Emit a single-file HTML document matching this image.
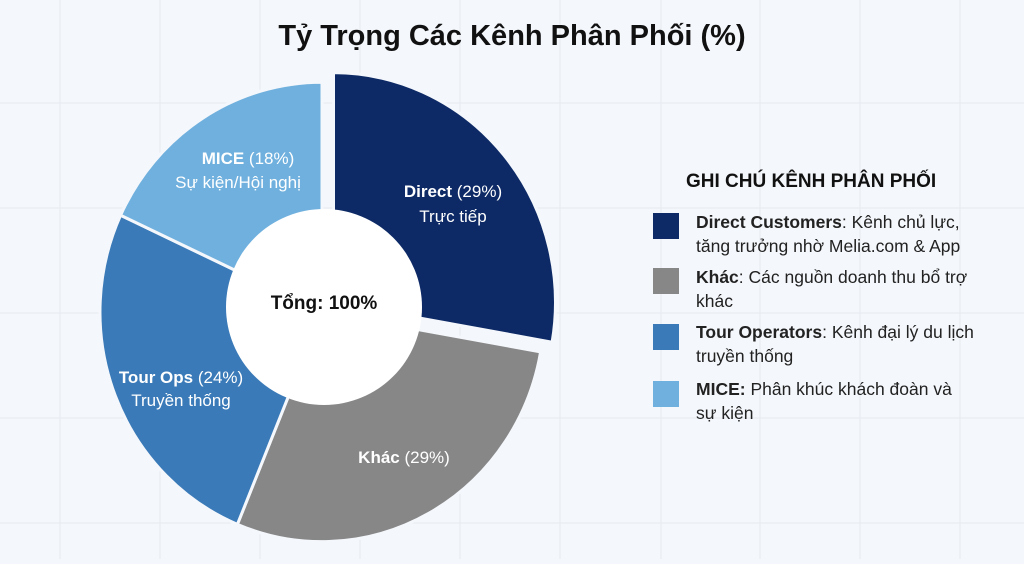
<!DOCTYPE html>
<html><head><meta charset="utf-8"><style>
html,body{margin:0;padding:0;}
body{width:1024px;height:559px;overflow:hidden;background:#f4f7fb;font-family:"Liberation Sans","DejaVu Sans",sans-serif;}
</style></head><body>
<svg width="1024" height="559" viewBox="0 0 1024 559" xmlns="http://www.w3.org/2000/svg" font-family="Liberation Sans, DejaVu Sans, sans-serif">
<rect width="1024" height="559" fill="#f4f7fb"/>
<g stroke="#e6ebf2" stroke-width="1">
<line x1="60" y1="0" x2="60" y2="559"/><line x1="160" y1="0" x2="160" y2="559"/><line x1="260" y1="0" x2="260" y2="559"/><line x1="360" y1="0" x2="360" y2="559"/><line x1="460" y1="0" x2="460" y2="559"/><line x1="560" y1="0" x2="560" y2="559"/><line x1="661" y1="0" x2="661" y2="559"/><line x1="760" y1="0" x2="760" y2="559"/><line x1="860" y1="0" x2="860" y2="559"/><line x1="960" y1="0" x2="960" y2="559"/>
<line x1="0" y1="103" x2="1024" y2="103"/><line x1="0" y1="208" x2="1024" y2="208"/><line x1="0" y1="313" x2="1024" y2="313"/><line x1="0" y1="418" x2="1024" y2="418"/><line x1="0" y1="523" x2="1024" y2="523"/>
</g>
<text x="512" y="45" text-anchor="middle" font-size="29" font-weight="bold" fill="#111">Tỷ Trọng Các Kênh Phân Phối (%)</text>
<g transform="translate(322,312) scale(1,1.035)" stroke="#f4f7fb" stroke-width="3">
<path d="M0,0 L218.6,38.5 A222,222 0 0 1 -84.6,205.2 Z" fill="#878787"/>
<path d="M0,0 L-84.6,205.2 A222,222 0 0 1 -201.4,-93.5 Z" fill="#3a7ab8"/>
<path d="M0,0 L-201.4,-93.5 A222,222 0 0 1 0,-222 Z" fill="#6fb0de"/>
<path transform="translate(11.5,-9.3)" d="M0,0 L0,-222 A222,222 0 0 1 218.6,38.5 Z" fill="#0d2a66"/>
</g>
<circle cx="324" cy="307" r="98" fill="#ffffff"/>
<text x="324" y="309" text-anchor="middle" font-size="19" font-weight="bold" fill="#111">Tổng: 100%</text>
<g font-size="17" fill="#fff" text-anchor="middle">
<text x="453" y="197"><tspan font-weight="bold">Direct</tspan> (29%)</text>
<text x="453" y="222">Trực tiếp</text>
<text x="248" y="164"><tspan font-weight="bold">MICE</tspan> (18%)</text>
<text x="238" y="188">Sự kiện/Hội nghị</text>
<text x="181" y="383"><tspan font-weight="bold">Tour Ops</tspan> (24%)</text>
<text x="181" y="406">Truyền thống</text>
<text x="404" y="463"><tspan font-weight="bold">Khác</tspan> (29%)</text>
</g>
<text x="686" y="187" font-size="19" font-weight="bold" fill="#111">GHI CHÚ KÊNH PHÂN PHỐI</text>
<rect x="653" y="213" width="26" height="26" fill="#0d2a66"/>
<rect x="653" y="268" width="26" height="26" fill="#878787"/>
<rect x="653" y="324" width="26" height="26" fill="#3a7ab8"/>
<rect x="653" y="381" width="26" height="26" fill="#6fb0de"/>
<g font-size="17.5" fill="#222">
<text x="696" y="228"><tspan font-weight="bold">Direct Customers</tspan>: Kênh chủ lực,</text>
<text x="696" y="252">tăng trưởng nhờ Melia.com &amp; App</text>
<text x="696" y="283"><tspan font-weight="bold">Khác</tspan>: Các nguồn doanh thu bổ trợ</text>
<text x="696" y="307">khác</text>
<text x="696" y="338"><tspan font-weight="bold">Tour Operators</tspan>: Kênh đại lý du lịch</text>
<text x="696" y="362">truyền thống</text>
<text x="696" y="395"><tspan font-weight="bold">MICE:</tspan> Phân khúc khách đoàn và</text>
<text x="696" y="419">sự kiện</text>
</g>
</svg>
</body></html>
